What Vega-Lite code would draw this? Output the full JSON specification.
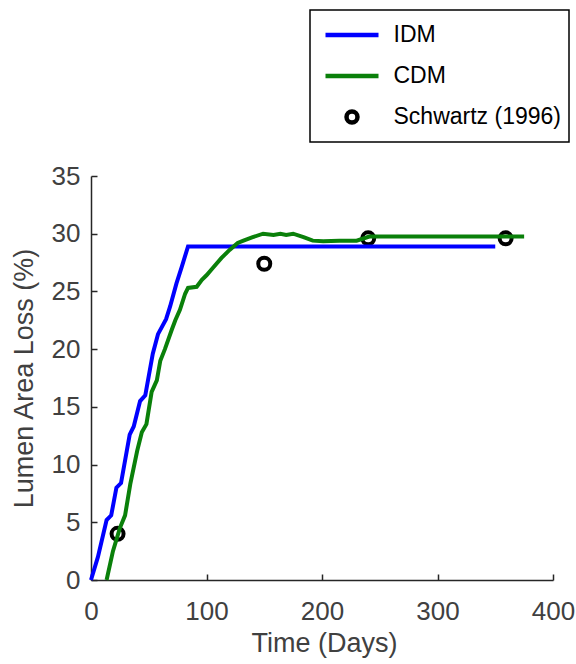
{
  "$schema": "https://vega.github.io/schema/vega-lite/v6.json",
  "width": 462,
  "height": 404,
  "autosize": {"type": "none"},
  "padding": {"left": 91, "top": 176, "right": 23, "bottom": 84},
  "background": "white",
  "config": {"view": {"stroke": null}, "font": "Liberation Sans"},
  "data": {
    "values": [
      {"series": "Schwartz (1996)", "day": 23, "loss": 4.0},
      {"series": "Schwartz (1996)", "day": 150, "loss": 27.4},
      {"series": "Schwartz (1996)", "day": 240, "loss": 29.6},
      {"series": "Schwartz (1996)", "day": 359, "loss": 29.6},
      {"series": "IDM", "day": 0, "loss": 0},
      {"series": "IDM", "day": 6, "loss": 2.0},
      {"series": "IDM", "day": 13.5, "loss": 5.2},
      {"series": "IDM", "day": 17.5, "loss": 5.6},
      {"series": "IDM", "day": 22, "loss": 8.0},
      {"series": "IDM", "day": 26, "loss": 8.4},
      {"series": "IDM", "day": 33.5, "loss": 12.6},
      {"series": "IDM", "day": 37, "loss": 13.3},
      {"series": "IDM", "day": 42.5, "loss": 15.5},
      {"series": "IDM", "day": 47, "loss": 16.0},
      {"series": "IDM", "day": 53.5, "loss": 19.6},
      {"series": "IDM", "day": 58, "loss": 21.3},
      {"series": "IDM", "day": 65, "loss": 22.6},
      {"series": "IDM", "day": 68.5, "loss": 23.7},
      {"series": "IDM", "day": 74, "loss": 25.7},
      {"series": "IDM", "day": 78.5, "loss": 27.1},
      {"series": "IDM", "day": 84, "loss": 28.9},
      {"series": "IDM", "day": 350, "loss": 28.9},
      {"series": "CDM", "day": 13.5, "loss": 0},
      {"series": "CDM", "day": 19, "loss": 2.5},
      {"series": "CDM", "day": 25, "loss": 4.5},
      {"series": "CDM", "day": 29.5, "loss": 5.6},
      {"series": "CDM", "day": 34, "loss": 8.3},
      {"series": "CDM", "day": 40, "loss": 11.2},
      {"series": "CDM", "day": 44, "loss": 12.8},
      {"series": "CDM", "day": 48, "loss": 13.5},
      {"series": "CDM", "day": 52.5, "loss": 16.3},
      {"series": "CDM", "day": 57, "loss": 17.3},
      {"series": "CDM", "day": 60, "loss": 19.0},
      {"series": "CDM", "day": 64, "loss": 20.0},
      {"series": "CDM", "day": 70, "loss": 21.7},
      {"series": "CDM", "day": 73, "loss": 22.5},
      {"series": "CDM", "day": 77, "loss": 23.4},
      {"series": "CDM", "day": 81.5, "loss": 24.8},
      {"series": "CDM", "day": 84, "loss": 25.3},
      {"series": "CDM", "day": 91.5, "loss": 25.4},
      {"series": "CDM", "day": 96, "loss": 26.0},
      {"series": "CDM", "day": 100, "loss": 26.4},
      {"series": "CDM", "day": 106, "loss": 27.1},
      {"series": "CDM", "day": 113, "loss": 27.9},
      {"series": "CDM", "day": 120, "loss": 28.6},
      {"series": "CDM", "day": 127, "loss": 29.2},
      {"series": "CDM", "day": 132, "loss": 29.4},
      {"series": "CDM", "day": 140, "loss": 29.7},
      {"series": "CDM", "day": 149, "loss": 30.0},
      {"series": "CDM", "day": 158, "loss": 29.9},
      {"series": "CDM", "day": 164, "loss": 30.0},
      {"series": "CDM", "day": 169, "loss": 29.9},
      {"series": "CDM", "day": 175, "loss": 30.0},
      {"series": "CDM", "day": 184, "loss": 29.7},
      {"series": "CDM", "day": 192, "loss": 29.4},
      {"series": "CDM", "day": 201, "loss": 29.35},
      {"series": "CDM", "day": 215, "loss": 29.4},
      {"series": "CDM", "day": 230, "loss": 29.4},
      {"series": "CDM", "day": 241, "loss": 29.75},
      {"series": "CDM", "day": 375, "loss": 29.75}
    ]
  },
  "encoding": {
    "x": {
      "field": "day",
      "type": "quantitative",
      "scale": {"domain": [0, 400], "nice": false, "zero": false},
      "axis": {
        "title": "Time (Days)",
        "values": [0, 100, 200, 300, 400],
        "grid": false,
        "domainColor": "#262626",
        "domainWidth": 1.5,
        "tickColor": "#262626",
        "tickWidth": 1.5,
        "tickSize": -6,
        "labelPadding": 24,
        "labelFontSize": 26,
        "labelColor": "#404040",
        "labelFlush": false,
        "labelOverlap": false,
        "titleFontSize": 27,
        "titleFontWeight": "normal",
        "titleColor": "#404040",
        "titleX": 233,
        "titleY": 71,
        "titleBaseline": "alphabetic",
        "titleAlign": "center"
      }
    },
    "y": {
      "field": "loss",
      "type": "quantitative",
      "scale": {"domain": [0, 35], "nice": false, "zero": false},
      "axis": {
        "title": "Lumen Area Loss (%)",
        "values": [0, 5, 10, 15, 20, 25, 30, 35],
        "grid": false,
        "domainColor": "#262626",
        "domainWidth": 1.5,
        "tickColor": "#262626",
        "tickWidth": 1.5,
        "tickSize": -6,
        "labelPadding": 17,
        "labelFontSize": 26,
        "labelColor": "#404040",
        "labelFlush": false,
        "labelOverlap": false,
        "titleFontSize": 27,
        "titleFontWeight": "normal",
        "titleColor": "#404040",
        "titleAngle": -90,
        "titleX": -67,
        "titleY": 202,
        "titleBaseline": "middle",
        "titleAlign": "center"
      }
    },
    "color": {
      "field": "series",
      "type": "nominal",
      "scale": {
        "domain": ["IDM", "CDM", "Schwartz (1996)"],
        "range": ["#0000ff", "#0a800a", "#000000"]
      },
      "legend": {
        "title": null,
        "orient": "none",
        "legendX": 219,
        "legendY": -166,
        "direction": "vertical",
        "fillColor": "white",
        "strokeColor": "#000000",
        "padding": 8,
        "symbolSize": 2809,
        "symbolOffset": 5,
        "clipHeight": 34,
        "rowPadding": 7,
        "labelOffset": 12.5,
        "labelFontSize": 23,
        "labelColor": "#000000",
        "labelLimit": 300,
        "encode": {
          "legend": {
            "update": {
              "strokeWidth": {"value": 1.5}
            }
          },
          "symbols": {
            "update": {
              "shape": {"signal": "datum.label === 'Schwartz (1996)' ? 'circle' : 'stroke'"},
              "size": {"signal": "datum.label === 'Schwartz (1996)' ? 120 : 2809"},
              "strokeWidth": {"value": 4.5},
              "stroke": {"signal": "scale('color', datum.value)"},
              "fill": {"value": "transparent"},
              "opacity": {"value": 1}
            }
          }
        }
      }
    }
  },
  "layer": [
    {
      "transform": [{"filter": "datum.series === 'Schwartz (1996)'"}],
      "mark": {"type": "point", "shape": "circle", "filled": false, "strokeWidth": 4, "size": 144, "opacity": 1}
    },
    {
      "transform": [{"filter": "datum.series !== 'Schwartz (1996)'"}],
      "mark": {"type": "line", "strokeWidth": 4, "clip": false},
      "encoding": {"order": {"field": "day", "type": "quantitative"}}
    }
  ]
}
